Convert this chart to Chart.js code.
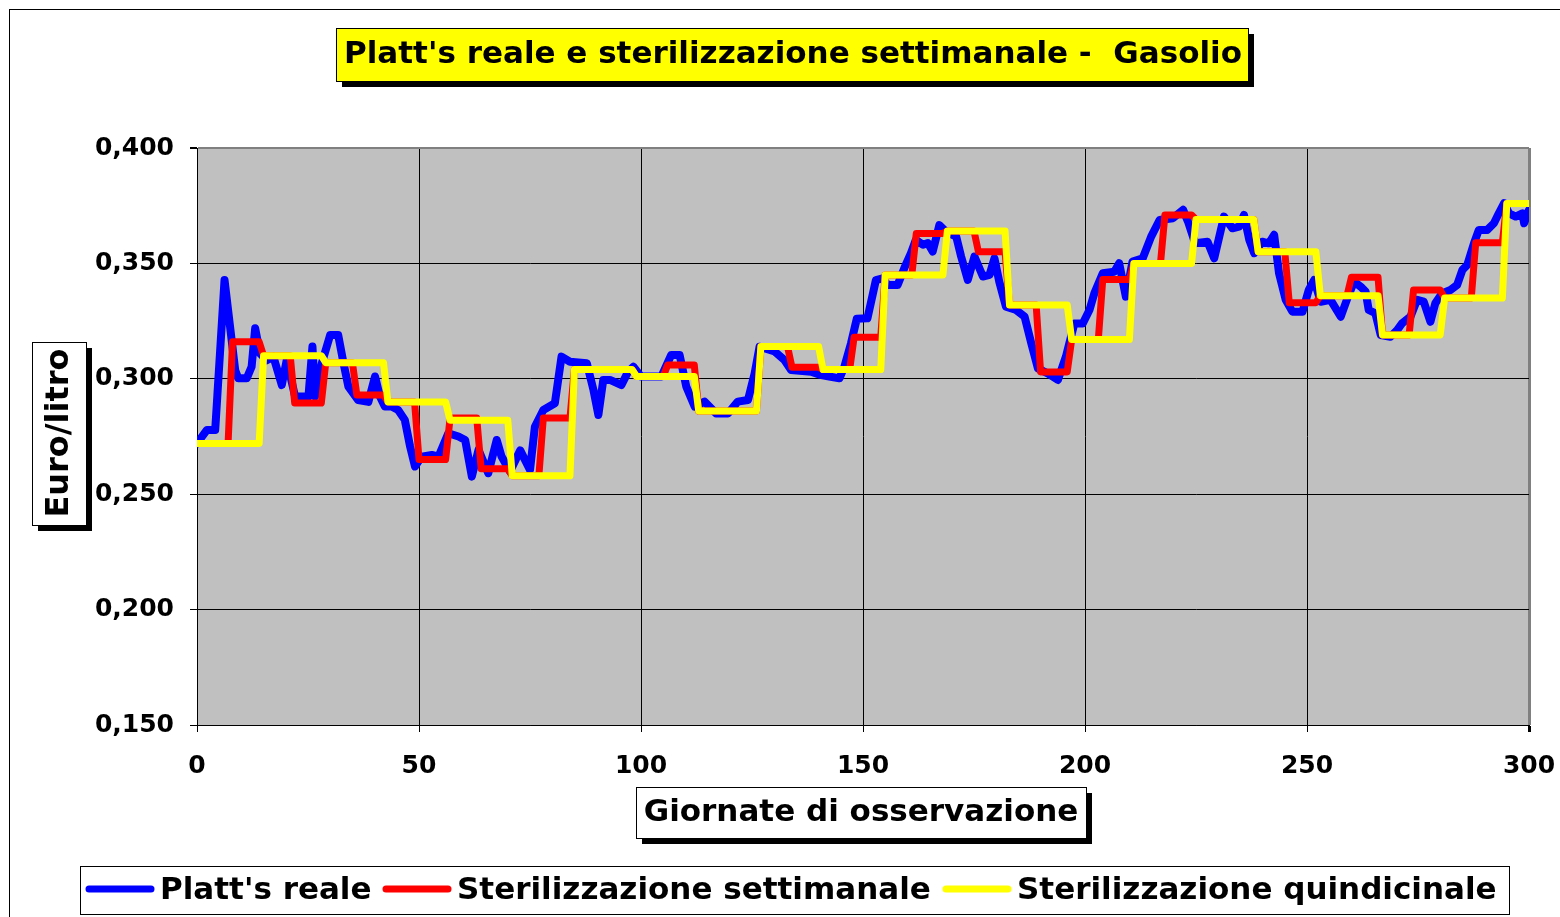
<!DOCTYPE html>
<html lang="it">
<head>
  <meta charset="UTF-8">
  <title>Platt's reale e sterilizzazione settimanale - Gasolio</title>
  <script src="https://cdn.jsdelivr.net/npm/chart.js"></script>
  <style>
    html, body { margin: 0; padding: 0; background: #fff; }
    #wrap { width: 1560px; height: 917px; position: relative; }
  </style>
</head>
<body>
  <div id="wrap"><canvas id="chart" width="1560" height="917"></canvas></div>
  <script>
    // Platt's reale: giorno / valore (Euro/litro)
    const plattDays = [0, 2.2, 4.1, 6.2, 8.6, 9.3, 11.2, 12.3, 13.1, 14.2, 15.7, 17.2, 19.1, 20.2, 22.1, 25.1, 26, 26.6,
      28.1, 30, 31.8, 33, 34.1, 36.3, 38.6, 40.1, 41.2, 42.3, 43.8, 45.3, 46.8, 48, 49.1, 50.6, 52.9, 54.4, 56.6, 58.9,
      60.4, 61.9, 63.4, 65.6, 67.5, 68.6, 70.5, 72.8, 75, 76.1, 78, 80.6, 82.1, 84, 87.8, 89.3, 90.4, 91.5, 93, 95.6,
      97.1, 98.3, 100, 104.6, 106.8, 108.7, 110.2, 112.1, 114.3, 116.9, 119.6, 121.8, 124.1, 125.6, 126.7, 130.1,
      132.3, 133.8, 138.3, 140.6, 142.4, 144.7, 145.8, 147.3, 148.6, 151, 152.9, 154.4, 155.6, 157.8, 159.3, 160.8,
      161.9, 163.5, 164.6, 165.7, 167.2, 168.7, 171, 172.1, 173.6, 175.1, 177, 178.5, 179.6, 180.7, 182.2, 184.5,
      186.4, 187.9, 189.4, 191.6, 193.9, 195.7, 197.6, 199.5, 201, 202.1, 204, 206.6, 207.7, 209.2, 210.7, 213,
      214.9, 216.8, 219.8, 222.1, 223.2, 224.8, 227.6, 229.1, 231.3, 233.2, 234.7, 235.8, 237, 238.1, 239.9, 241.4,
      242.6, 243.7, 245.2, 246.7, 249, 250.4, 251.6, 253.1, 255.3, 257.6, 259.1, 260.6, 262.1, 263.2, 263.9, 265.4,
      266.6, 268.8, 270.3, 271.4, 273.3, 274.8, 276.3, 277.8, 278.9, 280.4, 282.3, 283.8, 285, 286.1, 287.6, 288.7,
      290.6, 292.1, 293.2, 294.4, 295.5, 297, 298.5, 298.9, 300];
    const plattValues = [0.272, 0.2778, 0.2778, 0.3428, 0.3038, 0.3002, 0.3002, 0.3052, 0.3219, 0.311, 0.308, 0.3096,
      0.2973, 0.308, 0.2923, 0.2923, 0.314, 0.2923, 0.3067, 0.319, 0.319, 0.3067, 0.2966, 0.2908, 0.29, 0.301, 0.2923,
      0.288, 0.288, 0.2865, 0.2822, 0.2706, 0.262, 0.2663, 0.267, 0.2663, 0.2764, 0.275, 0.2735, 0.2576, 0.2692,
      0.2591, 0.2735, 0.2663, 0.2598, 0.269, 0.2605, 0.2792, 0.2865, 0.2894, 0.3096, 0.3074, 0.3067, 0.2951, 0.2843,
      0.2995, 0.2995, 0.2973, 0.3031, 0.3052, 0.301, 0.301, 0.3103, 0.3103, 0.2966, 0.2879, 0.2901, 0.285, 0.285,
      0.2901, 0.2908, 0.3024, 0.3139, 0.3118, 0.3081, 0.3038, 0.3031, 0.3016, 0.301, 0.3002, 0.3052, 0.3154, 0.326,
      0.3262, 0.3428, 0.3435, 0.3406, 0.3406, 0.3479, 0.3544, 0.3602, 0.3581, 0.3588, 0.3551, 0.3666, 0.3638, 0.3616,
      0.353, 0.3428, 0.353, 0.3443, 0.345, 0.3522, 0.342, 0.3312, 0.3298, 0.3269, 0.3154, 0.3045, 0.3023, 0.2995,
      0.3096, 0.324, 0.324, 0.3298, 0.337, 0.3457, 0.3464, 0.3501, 0.3356, 0.3508, 0.3522, 0.3616, 0.3688, 0.3696,
      0.3732, 0.3681, 0.3587, 0.3594, 0.3522, 0.3703, 0.3652, 0.3659, 0.371, 0.3602, 0.3544, 0.3594, 0.3587, 0.3624,
      0.3457, 0.3342, 0.3291, 0.3291, 0.3385, 0.3428, 0.3334, 0.3342, 0.3269, 0.3349, 0.3421, 0.3399, 0.3378, 0.3298,
      0.3284, 0.319, 0.3182, 0.3211, 0.324, 0.3269, 0.3342, 0.3334, 0.3247, 0.3327, 0.337, 0.3385, 0.3406, 0.3472,
      0.3493, 0.3587, 0.3645, 0.3645, 0.3674, 0.3717, 0.3761, 0.3717, 0.3703, 0.3717, 0.3674, 0.3732];

    // Sterilizzazione settimanale: un livello per settimana (7 giorni)
    const weeklyLevels = [0.272, 0.316, 0.310, 0.2895, 0.307, 0.293, 0.290, 0.265, 0.283, 0.261, 0.258, 0.283,
      0.304, 0.304, 0.301, 0.306, 0.286, 0.286, 0.314, 0.305, 0.304, 0.318, 0.345, 0.363, 0.364, 0.355, 0.332,
      0.303, 0.317, 0.343, 0.350, 0.371, 0.369, 0.369, 0.355, 0.333, 0.336, 0.344, 0.319, 0.3385, 0.335, 0.359, 0.376];

    // Sterilizzazione quindicinale: un livello ogni 14 giorni
    const fortnightLevels = [0.272, 0.310, 0.307, 0.290, 0.282, 0.258, 0.304, 0.301, 0.286, 0.314, 0.304, 0.345,
      0.364, 0.332, 0.317, 0.350, 0.369, 0.355, 0.336, 0.319, 0.335, 0.376];

    const xTicks = [0, 50, 100, 150, 200, 250, 300];
    const yTicks = [0.150, 0.200, 0.250, 0.300, 0.350, 0.400];
    const seriesNames = ["Platt's reale", 'Sterilizzazione settimanale', 'Sterilizzazione quindicinale'];
    const seriesColors = ['#0000FF', '#FF0000', '#FFFF00'];
    const lastDay = 300;

    function stepPoints(levels, len) {
      const pts = [];
      levels.forEach((v, k) => {
        const a = k === 0 ? 0 : k * len + 1;
        const b = Math.min((k + 1) * len, lastDay);
        pts.push({ x: a, y: v }, { x: b, y: v });
      });
      return pts;
    }

    const plattPoints = plattDays.map((d, i) => ({ x: d, y: plattValues[i] }));

    const FONT = '"DejaVu Sans", Verdana, sans-serif';

    function shadowBox(ctx, x, y, w, h, fill) {
      ctx.fillStyle = '#000';
      ctx.fillRect(x + 6, y + 6, w, h);
      ctx.fillStyle = fill;
      ctx.fillRect(x, y, w, h);
      ctx.strokeStyle = '#000';
      ctx.lineWidth = 1;
      ctx.strokeRect(x + 0.5, y + 0.5, w, h);
    }

    const decor = {
      id: 'decor',
      beforeDraw(chart) {
        const { ctx, chartArea: a } = chart;
        ctx.save();
        ctx.fillStyle = '#C0C0C0';
        ctx.fillRect(a.left, a.top, a.right - a.left, a.bottom - a.top);
        ctx.restore();
      },
      afterDraw(chart) {
        const ctx = chart.ctx;
        ctx.save();
        // cornice esterna
        ctx.strokeStyle = '#000';
        ctx.lineWidth = 1;
        ctx.strokeRect(9.5, 9.5, 1700, 1000);

        // titolo
        shadowBox(ctx, 336, 28, 912, 53, '#FFFF00');
        ctx.fillStyle = '#000';
        ctx.font = 'bold 31px ' + FONT;
        ctx.textAlign = 'center';
        ctx.textBaseline = 'middle';
        ctx.fillText("Platt's reale e sterilizzazione settimanale -  Gasolio", 793, 55);

        // titolo asse y
        shadowBox(ctx, 32, 342, 54, 183, '#FFFFFF');
        ctx.save();
        ctx.translate(60, 433);
        ctx.rotate(-Math.PI / 2);
        ctx.fillStyle = '#000';
        ctx.font = 'bold 32px ' + FONT;
        ctx.fillText('Euro/litro', 0, 0);
        ctx.restore();

        // titolo asse x
        shadowBox(ctx, 636, 787, 450, 51, '#FFFFFF');
        ctx.fillStyle = '#000';
        ctx.font = 'bold 31px ' + FONT;
        ctx.fillText('Giornate di osservazione', 861, 813);

        // legenda
        ctx.fillStyle = '#fff';
        ctx.fillRect(80, 866, 1429, 48);
        ctx.strokeStyle = '#000';
        ctx.lineWidth = 1;
        ctx.strokeRect(80.5, 866.5, 1429, 48);
        const starts = [87, 384, 944];
        ctx.font = 'bold 31px ' + FONT;
        ctx.textAlign = 'left';
        ctx.lineCap = 'round';
        seriesNames.forEach((name, i) => {
          const x = starts[i];
          ctx.strokeStyle = seriesColors[i];
          ctx.lineWidth = 7;
          ctx.beginPath();
          ctx.moveTo(x + 2, 889);
          ctx.lineTo(x + 64, 889);
          ctx.stroke();
          ctx.fillStyle = '#000';
          ctx.fillText(name, x + 73, 891);
        });
        ctx.restore();
      }
    };

    const lineStyle = { pointRadius: 0, borderWidth: 7, tension: 0, borderJoinStyle: 'round', borderCapStyle: 'round', fill: false };

    new Chart(document.getElementById('chart'), {
      type: 'line',
      data: {
        datasets: [
          Object.assign({}, lineStyle, { label: seriesNames[0], data: plattPoints, borderColor: seriesColors[0], borderWidth: 8, order: 3 }),
          Object.assign({}, lineStyle, { label: seriesNames[1], data: stepPoints(weeklyLevels, 7), borderColor: seriesColors[1], order: 2 }),
          Object.assign({}, lineStyle, { label: seriesNames[2], data: stepPoints(fortnightLevels, 14), borderColor: seriesColors[2], order: 1 })
        ]
      },
      options: {
        responsive: false,
        animation: false,
        events: [],
        layout: { padding: { left: 0, top: 148, right: 31, bottom: 0 } },
        plugins: { legend: { display: false }, title: { display: false }, tooltip: { enabled: false } },
        scales: {
          x: {
            type: 'linear', min: 0, max: lastDay,
            afterFit: s => { s.height = 192; s.paddingLeft = 0; s.paddingRight = 0; },
            afterBuildTicks: s => { s.ticks = xTicks.map(v => ({ value: v })); },
            ticks: { color: '#000', font: { family: FONT, size: 25, weight: 'bold' }, padding: 19, maxRotation: 0 },
            grid: {
              color: c => (c.tick && c.tick.value === lastDay ? '#808080' : '#000'),
              lineWidth: c => (c.tick && c.tick.value === lastDay ? 3 : 1),
              tickLength: 7, tickColor: '#000'
            },
            border: { display: true, color: '#000', width: 1 }
          },
          y: {
            min: 0.15, max: 0.4,
            afterFit: s => { s.width = 197; s.paddingTop = 0; s.paddingBottom = 0; },
            afterBuildTicks: s => { s.ticks = yTicks.map(v => ({ value: v })); },
            ticks: {
              color: '#000', font: { family: FONT, size: 25, weight: 'bold' }, padding: 16,
              callback: v => v.toFixed(3).replace('.', ',')
            },
            grid: {
              color: c => (c.tick && Math.abs(c.tick.value - 0.4) < 1e-9 ? '#808080' : '#000'),
              lineWidth: c => (c.tick && Math.abs(c.tick.value - 0.4) < 1e-9 ? 2 : 1),
              tickLength: 7, tickColor: '#000'
            },
            border: { display: true, color: '#000', width: 1 }
          }
        }
      },
      plugins: [decor]
    });
  </script>
</body>
</html>
